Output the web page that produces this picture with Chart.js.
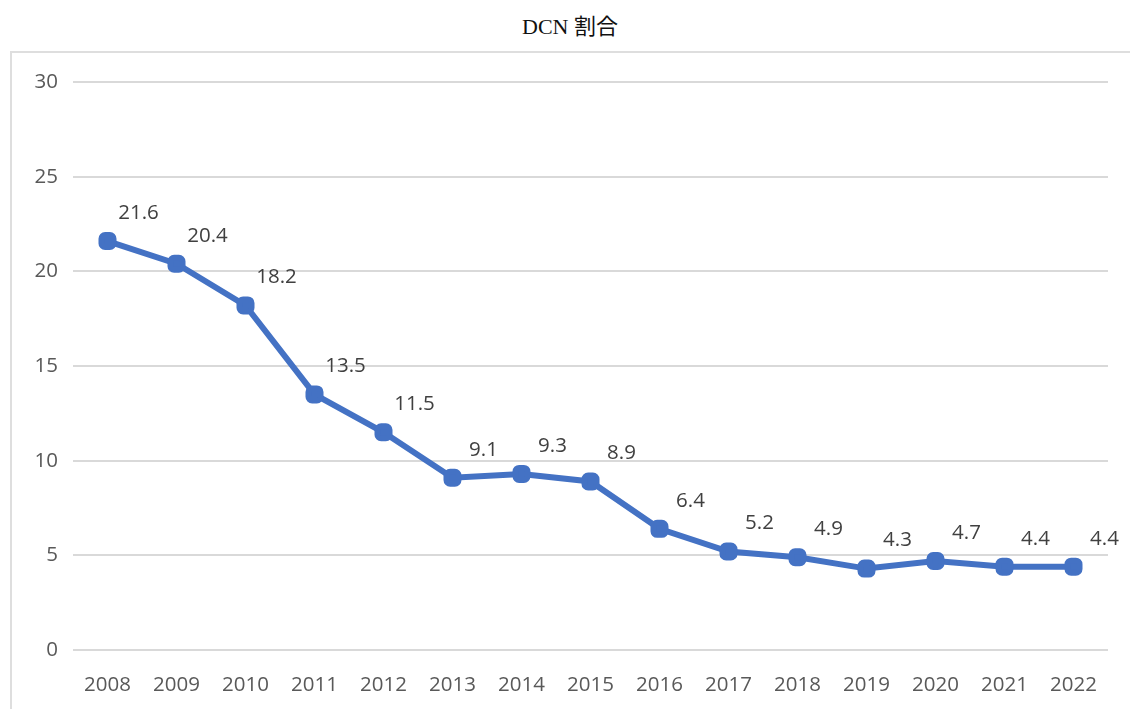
<!DOCTYPE html>
<html>
<head>
<meta charset="utf-8">
<script src="https://cdn.jsdelivr.net/npm/chart.js@4/dist/chart.umd.min.js"></script>
<style>
  body { margin: 0; background: #fff; width: 1130px; height: 709px; overflow: hidden; position: relative; }
  #title { position: absolute; left: 0; top: 8px; width: 1140px; text-align: center; font-family: 'Liberation Serif', 'Noto Sans CJK JP', serif; font-size: 22px; color: #111; }
  #box { position: absolute; left: 10px; top: 51px; width: 1130px; height: 670px; border: 2px solid #dedede; }
  #wrap { position: absolute; left: 0; top: 0; width: 1130px; height: 709px; }
</style>
</head>
<body>
<div id="title">DCN 割合</div>
<div id="box"></div>
<div id="wrap"><canvas id="myChart"></canvas></div>
<script>
'use strict';

// ***** data *****
let years = ['2008', '2009', '2010', '2011', '2012', '2013', '2014', '2015', '2016', '2017', '2018', '2019', '2020', '2021', '2022'];
let dcnRatio = [21.6, 20.4, 18.2, 13.5, 11.5, 9.1, 9.3, 8.9, 6.4, 5.2, 4.9, 4.3, 4.7, 4.4, 4.4];
let yTicks = [0, 5, 10, 15, 20, 25, 30];

const ctx = document.getElementById('myChart').getContext('2d');
const tickFont = '"Open Sans", "Noto Sans", sans-serif';

// draws the value next to each point, like excel data labels
let valueLabels = {
  id: 'valueLabels',
  afterDatasetsDraw(chart){
    let c = chart.ctx;
    let meta = chart.getDatasetMeta(0);
    c.save();
    c.font = '20.5px ' + tickFont;
    c.fillStyle = '#404040';
    c.textAlign = 'center';
    c.textBaseline = 'middle';
    meta.data.forEach(function(pt, i){
      c.fillText(dcnRatio[i].toFixed(1), pt.x + 31, pt.y - 28);
    });
    c.restore();
  }
};

let myChart = new Chart(ctx, {
  type: 'line',
  data: {
    labels: years,
    datasets: [{
      label: 'DCN 割合',
      data: dcnRatio,
      borderColor: '#4472C4',
      backgroundColor: '#4472C4',
      borderWidth: 6,
      pointStyle: 'rectRounded',
      pointRadius: 7,
      pointHoverRadius: 7,
      tension: 0
    }]
  },
  options: {
    responsive: true,
    maintainAspectRatio: false,
    animation: false,
    layout: { padding: { left: 0, right: 22, top: 82, bottom: 0 } },
    plugins: {
      legend: { display: false },
      title: { display: false },
      tooltip: { enabled: false }
    },
    scales: {
      x: {
        offset: true,
        grid: { display: false },
        border: { display: false },
        ticks: {
          color: '#595959',
          font: { size: 20.5, family: tickFont },
          padding: 15,
          maxRotation: 0
        },
        afterFit(scale){ scale.height = 59; }
      },
      y: {
        min: 0,
        max: 30,
        afterBuildTicks(scale){ scale.ticks = yTicks.map(v => ({ value: v })); },
        grid: { color: '#d9d9d9', lineWidth: 2, drawTicks: false },
        border: { display: false },
        ticks: {
          color: '#595959',
          font: { size: 20.5, family: tickFont },
          padding: 15
        },
        afterFit(scale){ scale.width = 73; }
      }
    }
  },
  plugins: [valueLabels]
});
</script>
</body>
</html>
